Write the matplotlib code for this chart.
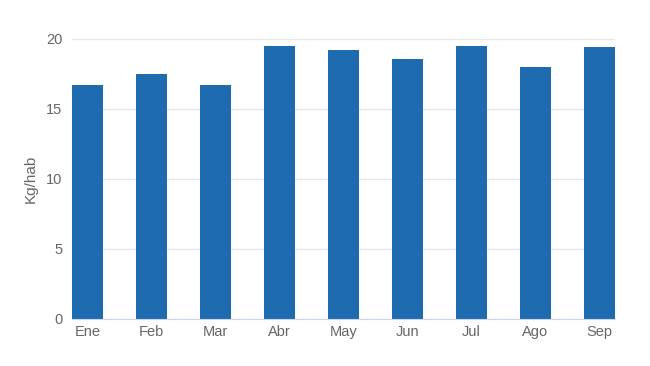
import matplotlib
matplotlib.use("Agg")
import matplotlib.pyplot as plt

# monthly values (Kg/hab)
months = ["Ene", "Feb", "Mar", "Abr", "May", "Jun", "Jul", "Ago", "Sep"]
values = [16.7, 17.5, 16.75, 19.5, 19.2, 18.6, 19.5, 18.0, 19.4]
yticks = [0, 5, 10, 15, 20]

plt.rcParams["font.family"] = ["Liberation Sans", "DejaVu Sans"]

fig = plt.figure(figsize=(6.5, 3.66), dpi=100)
ax = fig.add_axes([72 / 650, 47 / 366, 543 / 650, 280 / 366])

x = range(len(months))
ax.bar(x, values, width=0.485, color="#1f6bb0", zorder=2)

ax.set_xlim(-0.2425, len(months) - 1 + 0.2425)
ax.set_ylim(0, 20)
ax.set_yticks(yticks)
ax.set_xticks(list(x))
ax.set_xticklabels(months)

ax.grid(axis="y", color="#e6e6e6", linewidth=1, zorder=0)
for side in ["top", "right", "left"]:
    ax.spines[side].set_visible(False)
ax.spines["bottom"].set_color("#ccd6eb")
ax.tick_params(axis="x", length=0, pad=4, labelsize=10.5, labelcolor="#666666")
ax.tick_params(axis="y", length=0, pad=7, labelsize=10.5, labelcolor="#666666")
ax.set_ylabel("Kg/hab", fontsize=11, color="#666666", labelpad=6)

fig.savefig("out.png", dpi=100)
